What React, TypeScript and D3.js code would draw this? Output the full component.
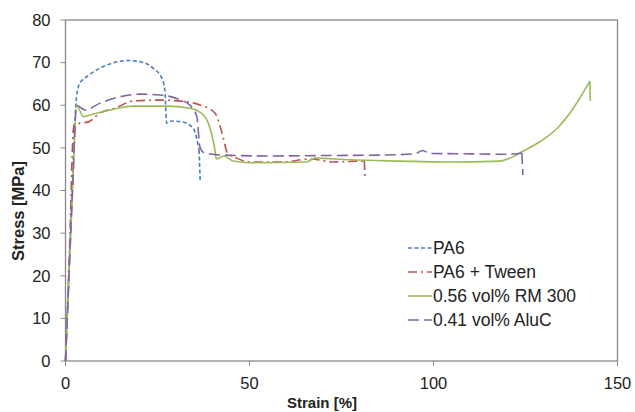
import React from "react"
import * as d3 from "d3"

// strain [%] / stress [MPa]
const pa6Strain = [0, 1, 2, 3, 3.9, 5.8, 9.4, 14, 17, 20.3, 23.8, 26.2, 27, 27.5, 28.9, 31.6, 34.7, 36.3, 36.6]
const pa6Stress = [0, 22, 44, 62, 65.2, 66.7, 68.7, 70.2, 70.5, 70.2, 68.7, 66.3, 63.5, 55.8, 56.3, 56.1, 54.6, 49.5, 42]

const tweenStrain = [0, 1, 2.3, 3.9, 6.2, 9.4, 13.4, 18.4, 25.7, 33, 36.7, 40.6, 42.8, 44, 46.5, 50, 59, 66.5, 72.8, 80, 81.2, 81.4]
const tweenStress = [0, 24, 55.4, 55.8, 56.1, 58.2, 59.3, 61, 61.2, 60.8, 60, 58.2, 52.6, 48.8, 47.6, 46.7, 46.7, 47.4, 46.7, 46.9, 46.9, 43.2]

const rmStrain = [0, 1, 2, 3, 4.9, 6.6, 11.2, 18.4, 27.5, 33.8, 37.5, 38.8, 40.1, 40.6, 41, 43, 45.6, 50, 65.5, 67.8, 77, 91, 103.7, 118, 120.8, 124.3, 129, 133.5, 138, 142.5, 142.6]
const rmStress = [0, 21, 42, 60, 57.3, 57.7, 58.7, 59.8, 59.8, 59.3, 57.7, 55.8, 51.8, 49.5, 47.4, 48.1, 46.9, 46.5, 46.7, 47.6, 47.2, 46.9, 46.7, 46.9, 47.6, 49.2, 51.5, 54.5, 59.3, 65.7, 61]

const aluStrain = [0, 1, 2, 3, 5.3, 9.4, 14.8, 20.2, 25.7, 30.2, 33.8, 35.7, 36.5, 37.4, 41, 55, 70, 85, 95, 97, 99, 110, 120, 124, 124.3]
const aluStress = [0, 21, 42, 60, 58.9, 60.5, 62, 62.6, 62.4, 61.6, 60, 57.3, 50.3, 49, 48.4, 48.1, 48.2, 48.3, 48.6, 49.4, 48.7, 48.6, 48.5, 48.8, 43.6]

const seriesNames = ["PA6", "PA6 + Tween", "0.56 vol% RM 300", "0.41 vol% AluC"]
const seriesColors = ["#4a7ebb", "#c0504d", "#9bbb59", "#8064a2"]
const seriesDash = ["4,2.5", "9,4,2,4", "", "11,5"]

const xTicks = [0, 50, 100, 150]
const yTicks = [0, 10, 20, 30, 40, 50, 60, 70, 80]

const W = 635
const H = 412
const left = 65.5
const right = 617.5
const top = 20
const bottom = 361

export default function App() {
  const x = d3.scaleLinear().domain([0, 150]).range([left, right])
  const y = d3.scaleLinear().domain([0, 80]).range([bottom, top])

  const series = [
    [pa6Strain, pa6Stress],
    [tweenStrain, tweenStress],
    [rmStrain, rmStress],
    [aluStrain, aluStress],
  ]

  const line = d3
    .line<[number, number]>()
    .x(d => x(d[0]))
    .y(d => y(d[1]))
    .curve(d3.curveMonotoneX)

  const lineLinear = d3
    .line<[number, number]>()
    .x(d => x(d[0]))
    .y(d => y(d[1]))

  const font = "'Liberation Sans', Arial, sans-serif"

  return (
    <svg width={W} height={H} style={{ position: "absolute", left: 0, top: 0, background: "#fff" }} fontFamily={font}>
      <rect x={left} y={top} width={right - left} height={bottom - top} fill="none" stroke="#898989" strokeWidth={1.3} />

      {yTicks.map(t => (
        <g key={"y" + t}>
          <line x1={left - 5} x2={left} y1={y(t)} y2={y(t)} stroke="#898989" />
          <text x={left - 15} y={y(t)} dy="0.35em" textAnchor="end" fontSize={16.5} fill="#222">{t}</text>
        </g>
      ))}
      {xTicks.map(t => (
        <g key={"x" + t}>
          <line x1={x(t)} x2={x(t)} y1={bottom} y2={bottom + 5} stroke="#898989" />
          <text x={x(t)} y={bottom + 22} dy="0.35em" textAnchor="middle" fontSize={16.5} fill="#222">{t}</text>
        </g>
      ))}

      {series.map((s, i) => {
        const pts = s[0].map((v, j) => [v, s[1][j]] as [number, number])
        // keep the vertical break at the end straight
        const body = pts.slice(0, -1)
        const last = pts.slice(-2)
        return (
          <g key={"s" + i}>
            <path d={line(body) || ""} fill="none" stroke={seriesColors[i]} strokeWidth={1.6} strokeDasharray={seriesDash[i]} />
            <path d={lineLinear(last) || ""} fill="none" stroke={seriesColors[i]} strokeWidth={1.6} strokeDasharray={seriesDash[i]} />
          </g>
        )
      })}

      {seriesNames.map((n, i) => {
        const ly = 248 + i * 24
        return (
          <g key={"l" + i}>
            <line x1={408} x2={432} y1={ly} y2={ly} stroke={seriesColors[i]} strokeWidth={1.6} strokeDasharray={seriesDash[i]} />
            <text x={433} y={ly} dy="0.35em" fontSize={17.5} fill="#222">{n}</text>
          </g>
        )
      })}

      <text x={322} y={403} dy="0.35em" textAnchor="middle" fontSize={15} fontWeight="bold" fill="#222">Strain [%]</text>
      <text transform={`translate(18,211) rotate(-90)`} dy="0.35em" textAnchor="middle" fontSize={16.5} fontWeight="bold" fill="#222">Stress [MPa]</text>
    </svg>
  )
}
